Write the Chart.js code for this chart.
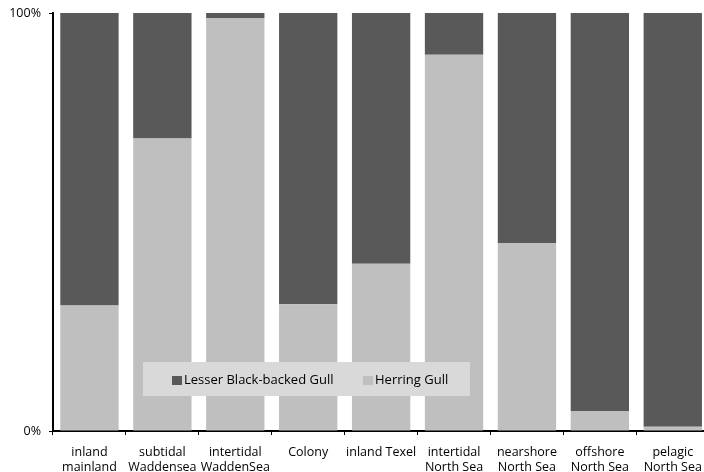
<!DOCTYPE html>
<html>
<head>
<meta charset="utf-8">
<script src="https://cdn.jsdelivr.net/npm/chart.js@4"></script>
<style>
  html, body { margin: 0; padding: 0; overflow: hidden; background: #fff; }
  #wrap { width: 712px; height: 472px; }
</style>
</head>
<body>
<div id="wrap"><canvas id="chart" width="712" height="472"></canvas></div>
<script>
// 数据
const categories = [
  ['inland', 'mainland'],
  ['subtidal', 'Waddensea'],
  ['intertidal', 'WaddenSea'],
  ['Colony'],
  ['inland Texel'],
  ['intertidal', 'North Sea'],
  ['nearshore', 'North Sea'],
  ['offshore', 'North Sea'],
  ['pelagic', 'North Sea']
];
const herringGull = [30, 70, 98.8, 30.3, 40, 90, 45, 4.8, 1];
const lesserBlackBacked = [70, 30, 1.2, 69.7, 60, 10, 55, 95.2, 99];
const yTicks = [0, 100];

const darkColor = '#595959';
const lightColor = '#bfbfbf';
const fontFamily = '"Open Sans", "Liberation Sans", sans-serif';

// 图内图例
const innerLegend = {
  id: 'innerLegend',
  afterDatasetsDraw(chart) {
    const ctx = chart.ctx;
    ctx.save();
    ctx.fillStyle = '#d9d9d9';
    ctx.fillRect(143, 362, 327, 34);
    ctx.font = '13px ' + fontFamily;
    ctx.textBaseline = 'middle';
    ctx.fillStyle = darkColor;
    ctx.fillRect(172, 376, 10, 9);
    ctx.fillStyle = '#000';
    ctx.fillText('Lesser Black-backed Gull', 184, 380);
    ctx.fillStyle = lightColor;
    ctx.fillRect(363, 376, 10, 9);
    ctx.fillStyle = '#000';
    ctx.fillText('Herring Gull', 375, 380);
    ctx.restore();
  }
};

new Chart(document.getElementById('chart'), {
  type: 'bar',
  data: {
    labels: categories,
    datasets: [
      { label: 'Herring Gull', data: herringGull, backgroundColor: lightColor },
      { label: 'Lesser Black-backed Gull', data: lesserBlackBacked, backgroundColor: darkColor }
    ]
  },
  options: {
    responsive: false,
    animation: false,
    devicePixelRatio: 1,
    barPercentage: 0.8,
    categoryPercentage: 1,
    layout: { padding: { top: 0, right: 2, left: 0, bottom: 0 } },
    plugins: {
      legend: { display: false },
      tooltip: { enabled: false }
    },
    scales: {
      x: {
        stacked: true,
        border: { color: '#000', width: 2 },
        grid: { color: '#000', drawOnChartArea: false, drawTicks: true, tickLength: 4, offset: true },
        ticks: { color: '#000', font: { family: fontFamily, size: 12.5, lineHeight: 1.2 }, maxRotation: 0, autoSkip: false, padding: 10 },
        afterFit(scale) { scale.height = 41; }
      },
      y: {
        stacked: true,
        min: 0,
        max: 100,
        afterBuildTicks(scale) { scale.ticks = yTicks.map(v => ({ value: v })); },
        border: { color: '#000', width: 2 },
        grid: { color: '#000', drawOnChartArea: false, drawTicks: true, tickLength: 4 },
        ticks: {
          color: '#000',
          font: { family: fontFamily, size: 12.5, lineHeight: 0.8 },
          padding: 8,
          callback: v => v + '%'
        },
        afterFit(scale) { scale.width = 53; }
      }
    }
  },
  plugins: [innerLegend]
});
</script>
</body>
</html>
